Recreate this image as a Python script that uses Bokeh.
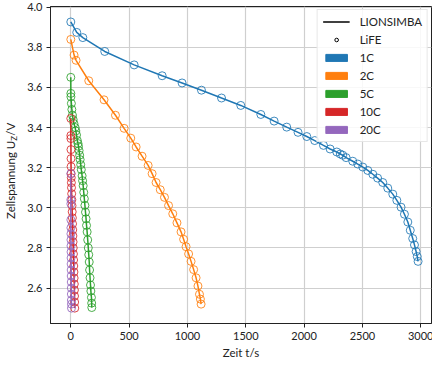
from bokeh.plotting import figure
from bokeh.layouts import row
from bokeh.models import Range1d, Legend, LegendItem, FixedTicker, PrintfTickFormatter, Div
from bokeh.embed import file_html
from bokeh.resources import INLINE

# ---- data ----
t_1c = [0, 51, 103, 291, 543, 783, 954, 1120, 1292, 1457, 1629, 1743, 1851, 1948,
        2023, 2091, 2166, 2223, 2280, 2310, 2331, 2360, 2417, 2460, 2503, 2546, 2589,
        2630, 2674, 2717, 2760, 2795, 2831, 2860, 2889, 2910, 2931, 2946, 2960, 2970, 2977]
v_1c = [3.926, 3.874, 3.848, 3.779, 3.712, 3.658, 3.622, 3.586, 3.547, 3.510, 3.465,
        3.432, 3.402, 3.376, 3.355, 3.335, 3.311, 3.293, 3.278, 3.268, 3.262, 3.250,
        3.232, 3.218, 3.203, 3.186, 3.167, 3.148, 3.126, 3.098, 3.068, 3.037, 3.003,
        2.968, 2.929, 2.888, 2.847, 2.815, 2.782, 2.757, 2.733]

t_2c = [0, 28, 45, 154, 285, 383, 457, 514, 560, 611, 663, 697, 731, 767, 803, 838,
        874, 910, 945, 967, 988, 1010, 1031, 1053, 1074, 1090, 1103, 1111, 1117]
v_2c = [3.839, 3.761, 3.735, 3.633, 3.538, 3.461, 3.396, 3.347, 3.303, 3.257, 3.211,
        3.170, 3.126, 3.090, 3.052, 3.011, 2.970, 2.925, 2.880, 2.843, 2.806, 2.770,
        2.733, 2.692, 2.651, 2.610, 2.569, 2.545, 2.520]

t_5c = [0, 0.5, 1, 5, 9, 14, 20, 27, 37, 43, 49, 56, 62, 66, 71, 76, 80, 85, 90, 97,
        101, 106, 111, 116, 121, 126, 131, 135, 140, 145, 150, 154, 158, 161, 165,
        169, 172, 177, 179, 180]
v_5c = [3.650, 3.570, 3.553, 3.520, 3.490, 3.462, 3.440, 3.420, 3.400, 3.383, 3.363,
        3.335, 3.320, 3.306, 3.285, 3.262, 3.240, 3.215, 3.190, 3.159, 3.135, 3.110,
        3.077, 3.045, 3.012, 2.978, 2.945, 2.912, 2.880, 2.840, 2.800, 2.766, 2.730,
        2.690, 2.651, 2.615, 2.585, 2.553, 2.525, 2.503]

t_10c = [0, 0.5, 1, 1.5, 2, 2.5, 3, 4, 5, 6, 7.5, 9, 10.5, 12, 13.5, 15, 16.5, 18,
         19.5, 21, 22.5, 24, 25.5, 27, 28.5, 30, 31, 32, 33, 34]
v_10c = [3.445, 3.36, 3.345, 3.29, 3.245, 3.205, 3.17, 3.15, 3.125, 3.10, 3.07, 3.04,
         3.01, 2.98, 2.95, 2.92, 2.89, 2.86, 2.83, 2.80, 2.77, 2.74, 2.71, 2.68, 2.65,
         2.62, 2.59, 2.56, 2.53, 2.50]

t_20c = [0, 0.2, 0.4, 0.6, 0.8, 1, 1.3, 1.6, 2, 2.4, 2.8, 3.2, 3.6, 4, 4.4, 4.8, 5.2,
         5.6, 6]
v_20c = [3.17, 3.04, 3.02, 2.94, 2.90, 2.87, 2.84, 2.81, 2.78, 2.75, 2.72, 2.69, 2.66,
         2.63, 2.60, 2.57, 2.54, 2.52, 2.50]

series = [("1C", t_1c, v_1c, "#1f77b4"),
          ("2C", t_2c, v_2c, "#ff7f0e"),
          ("5C", t_5c, v_5c, "#2ca02c"),
          ("10C", t_10c, v_10c, "#d62728"),
          ("20C", t_20c, v_20c, "#9467bd")]

x_ticks = [0, 500, 1000, 1500, 2000, 2500, 3000]
y_ticks = [2.6, 2.8, 3.0, 3.2, 3.4, 3.6, 3.8, 4.0]

FONT = "Lato"

p = figure(width=409, height=361, output_backend="svg", toolbar_location=None,
           x_range=Range1d(-174, 3092), y_range=Range1d(2.4234, 4.003),
           min_border_left=26, min_border_right=2, min_border_top=6, min_border_bottom=36)

for name, t, v, c in series:
    p.line(t, v, color=c, line_width=1.5)
    p.scatter(t, v, marker="circle", size=8, fill_color=None, line_color=c,
              line_alpha=0.85, line_width=1)

# legend proxies (placed outside the visible range)
r_line = p.line([-5000, -4000], [3, 3], color="black", line_width=1.5)
r_circ = p.scatter([-5000], [3], marker="circle", size=7, fill_color=None,
                   line_color="black", line_width=1)
items = [LegendItem(label="LIONSIMBA", renderers=[r_line]),
         LegendItem(label="LiFE", renderers=[r_circ])]
for name, t, v, c in series:
    r = p.quad(left=[-5000], right=[-4000], top=[3.1], bottom=[3.0],
               fill_color=c, line_color=c)
    items.append(LegendItem(label=name, renderers=[r]))

legend = Legend(items=items, location="top_right", label_text_font=FONT,
                label_text_font_size="11.5px", glyph_width=27, glyph_height=9,
                label_height=9, spacing=5, padding=5, margin=3,
                border_line_color="#d0d0d0", background_fill_alpha=0.85,
                label_standoff=10, label_text_color="#222222")
p.add_layout(legend)

p.xaxis.ticker = FixedTicker(ticks=x_ticks)
p.yaxis.ticker = FixedTicker(ticks=y_ticks)
p.yaxis.formatter = PrintfTickFormatter(format="%.1f")
for ax in (p.xaxis[0], p.yaxis[0]):
    ax.major_label_text_font = FONT
    ax.major_label_text_font_size = "11px"
    ax.major_label_text_color = "#222222"
    ax.minor_tick_line_color = None
    ax.major_tick_out = 4
    ax.major_tick_in = 0
    ax.major_label_standoff = 4
    ax.axis_line_color = "#222222"
    ax.major_tick_line_color = "#222222"
    ax.axis_label_text_font = FONT
    ax.axis_label_text_font_size = "11.5px"
    ax.axis_label_text_font_style = "normal"
    ax.axis_label_text_color = "#222222"
p.xaxis.axis_label = "Zeit t/s"
p.xaxis.axis_label_standoff = 3

p.grid.grid_line_color = "#cfcfcf"
p.grid.grid_line_width = 1.2
p.outline_line_color = "#222222"
p.outline_line_width = 1

# y axis label with a real subscript, rotated to read bottom-to-top
ylabel = Div(
    text=('<div style="writing-mode: vertical-rl; transform: rotate(180deg); '
          'margin-top: 6px; margin-left: 0px; width: 12px; height: 319px; '
          'line-height: 12px; text-align: center; white-space: nowrap; '
          f'font-family: {FONT}; font-size: 11.5px; color: #222222;">'
          'Zellspannung U<sub style="font-size: 8px;">Z</sub>/V</div>'),
    width=14, height=361)

layout = row(ylabel, p, spacing=0)
open("out.html", "w").write(file_html(layout, INLINE))
